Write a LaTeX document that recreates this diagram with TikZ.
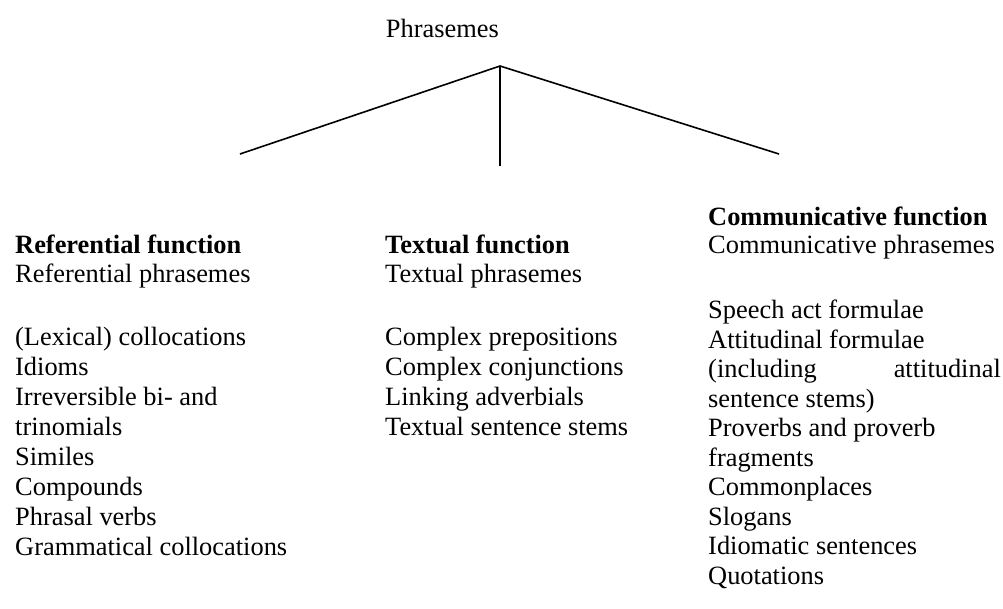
\documentclass[tikz,border=0pt]{standalone}
\usepackage{fontspec}
\setmainfont{Liberation Serif}
\tikzset{
  item/.style={anchor=base west,inner sep=0pt,font=\fontsize{26.4}{29.5}\selectfont},
  head/.style={item,font=\fontsize{26.4}{29.5}\selectfont\bfseries},
  branch/.style={line width=1.6pt}
}
\begin{document}
\begin{tikzpicture}[x=1pt,y=-1pt]
\useasboundingbox (0,0) rectangle (1003,608);
\node[item,anchor=base east] (root) at (499,37) {Phrasemes};
\coordinate (top) at (500,66);
\coordinate (refend) at (240,154);
\coordinate (txtend) at (500,166);
\coordinate (comend) at (779,154);
\draw[branch] (top) -- (refend);
\draw[branch] (top) -- (txtend);
\draw[branch] (top) -- (comend);
\node[head] (ref) at (15,253) {Referential function};
\node[item] (ref1) at (15,282) {Referential phrasemes};
\node[item] (ref2) at (15,345) {(Lexical) collocations};
\node[item] (ref3) at (15,375) {Idioms};
\node[item] (ref4) at (15,405) {Irreversible bi- and};
\node[item] (ref5) at (15,435) {trinomials};
\node[item] (ref6) at (15,465) {Similes};
\node[item] (ref7) at (15,495) {Compounds};
\node[item] (ref8) at (15,525) {Phrasal verbs};
\node[item] (ref9) at (15,555) {Grammatical collocations};
\node[head] (txt) at (385,253) {Textual function};
\node[item] (txt1) at (385,282) {Textual phrasemes};
\node[item] (txt2) at (385,345) {Complex prepositions};
\node[item] (txt3) at (385,375) {Complex conjunctions};
\node[item] (txt4) at (385,405) {Linking adverbials};
\node[item] (txt5) at (385,435) {Textual sentence stems};
\node[head] (com) at (708,225) {Communicative function};
\node[item] (com1) at (708,253) {Communicative phrasemes};
\node[item] (com2) at (708,318) {Speech act formulae};
\node[item] (com3) at (708,348) {Attitudinal formulae};
\node[item] (com4) at (708,377) {(including};
\node[item,anchor=base east] (com4b) at (1001,377) {attitudinal};
\node[item] (com5) at (708,407) {sentence stems)};
\node[item] (com6) at (708,436) {Proverbs and proverb};
\node[item] (com7) at (708,466) {fragments};
\node[item] (com8) at (708,495) {Commonplaces};
\node[item] (com9) at (708,525) {Slogans};
\node[item] (com10) at (708,554) {Idiomatic sentences};
\node[item] (com11) at (708,584) {Quotations};
\end{tikzpicture}
\end{document}
